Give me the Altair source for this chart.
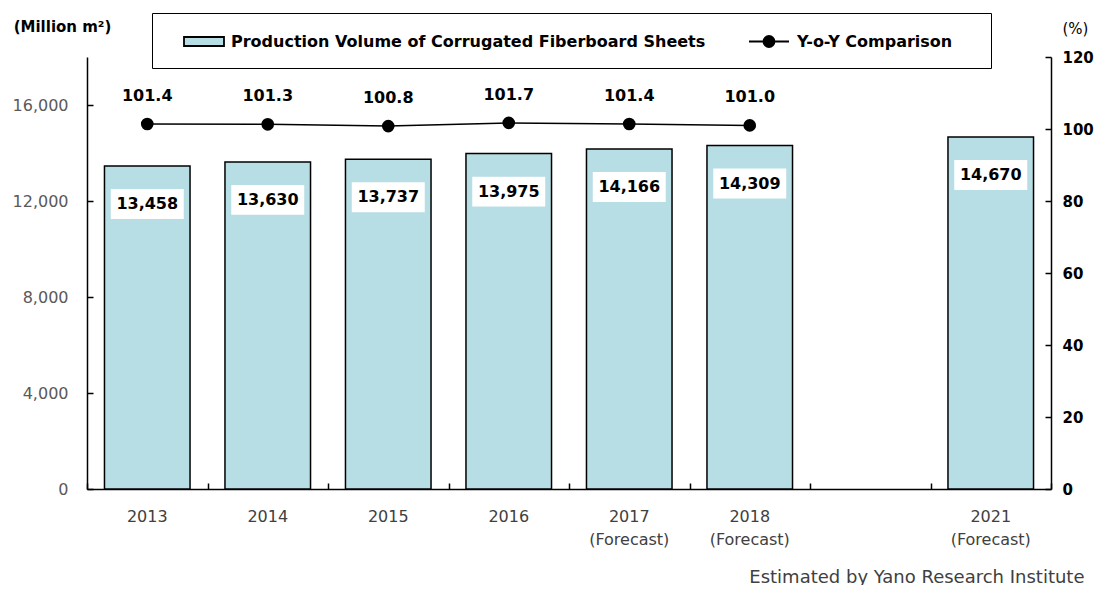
import altair as alt
import pandas as pd

# ---- data ----
categories = ["2013", "2014", "2015", "2016", "2017 (Forecast)", "2018 (Forecast)", "2021 (Forecast)"]
axis_slots = ["2013", "2014", "2015", "2016", "2017 (Forecast)", "2018 (Forecast)", "gap", "2021 (Forecast)"]
volume = [13458, 13630, 13737, 13975, 14166, 14309, 14670]
yoy = [101.4, 101.3, 100.8, 101.7, 101.4, 101.0, None]
left_ticks = [0, 4000, 8000, 12000, 16000]
right_ticks = [0, 20, 40, 60, 80, 100, 120]
S1 = "Production Volume of Corrugated Fiberboard Sheets"
S2 = "Y-o-Y Comparison"
FOOTER = "Estimated by Yano Research Institute"

FONT = "DejaVu Sans"
BLUE = "#b7dde5"
TS = 6  # inward tick length

df = pd.DataFrame({"cat": categories, "volume": volume, "yoy": yoy})

xscale = alt.Scale(domain=axis_slots, paddingInner=0.29, paddingOuter=0.145)
xslots = alt.Scale(domain=axis_slots, paddingInner=0, paddingOuter=0)
yLscale = alt.Scale(domain=[0, 18000], nice=False)
yRscale = alt.Scale(domain=[0, 120], nice=False)

x = alt.X(
    "cat:N", scale=xscale,
    axis=alt.Axis(
        title=FOOTER,
        titleX=997, titleY=93, titleAlign="right", titleBaseline="alphabetic",
        titleAngle=0, titleFont=FONT, titleFontSize=18, titleFontWeight="normal",
        titleColor="#404040",
        labelExpr="datum.value == 'gap' ? '' : split(datum.value, ' ')",
        labelAngle=0, labelFont=FONT, labelFontSize=16, labelColor="#404040",
        labelPadding=19, labelLineHeight=23,
        ticks=False, domainColor="black", domainWidth=1.5,
    ),
)
x_noaxis = alt.X("cat:N", scale=xscale, axis=None)
x_ticks = alt.X(
    "cat:N", scale=xslots,
    axis=alt.Axis(title=None, labels=False, domain=False, orient="bottom",
                  tickBand="extent", zindex=2,
                  tickSize=TS, tickColor="black", tickWidth=1.5, offset=-TS),
)

yL = alt.Y(
    "volume:Q", scale=yLscale,
    axis=alt.Axis(
        values=left_ticks, format=",.0f", grid=False,
        title="(Million m²)", titleAngle=0, titleX=-25, titleY=-26,
        titleAlign="center", titleBaseline="alphabetic",
        titleFont=FONT, titleFontSize=15, titleFontWeight="bold", titleColor="black",
        labelFont=FONT, labelFontSize=16, labelColor="#595959", labelPadding=19,
        ticks=False, domainColor="black", domainWidth=1.5,
    ),
)
yL_ticks = alt.Y(
    "volume:Q", scale=yLscale,
    axis=alt.Axis(values=left_ticks, title=None, labels=False, domain=False, grid=False,
                  tickSize=TS, tickColor="black", tickWidth=1.5, offset=-TS, orient="left", zindex=2),
)

yR = alt.Y(
    "yoy:Q", scale=yRscale,
    axis=alt.Axis(
        orient="right", values=right_ticks, grid=False,
        title="(%)", titleAngle=0, titleX=24, titleY=-24,
        titleAlign="center", titleBaseline="alphabetic",
        titleFont=FONT, titleFontSize=15, titleFontWeight="normal", titleColor="black",
        labelFont=FONT, labelFontSize=15, labelFontWeight="bold", labelColor="black",
        labelPadding=11, ticks=False, domainColor="black", domainWidth=1.5,
    ),
)
yR_ticks = alt.Y(
    "yoy:Q", scale=yRscale,
    axis=alt.Axis(values=right_ticks, title=None, labels=False, domain=False, grid=False,
                  tickSize=TS, tickColor="black", tickWidth=1.5, offset=-TS, orient="right", zindex=2),
)

# trailing non-breaking spaces (closed by a zero-width space) widen the framed legend
PAD = "\u00a0" * 48 + "\u200b"
legend_bar = alt.Legend(
    title=None, orient="none", legendX=65, legendY=-44, direction="horizontal",
    labelFont=FONT, labelFontSize=16, labelFontWeight="bold", labelColor="black",
    labelLimit=1200, labelExpr=f"datum.label + '{PAD}'",
    strokeColor="black", padding=17.5,
    symbolType="M-2,-0.45H2V0.45H-2Z", symbolSize=400, symbolOffset=23.5,
    symbolStrokeColor="black", symbolStrokeWidth=1.8, symbolFillColor=BLUE,
    labelOffset=16,
)
legend_line = alt.Legend(
    title=None, orient="none", legendX=661, legendY=-26.5, direction="horizontal",
    labelFont=FONT, labelFontSize=16, labelFontWeight="bold", labelColor="black",
    labelLimit=600, padding=0,
    symbolType="M-2,0H2M0.55,0A0.55,0.55,0,1,1,-0.55,0A0.55,0.55,0,1,1,0.55,0",
    symbolSize=400, symbolOffset=10, symbolStrokeColor="black", symbolStrokeWidth=1.8,
    symbolFillColor="black", symbolOpacity=1, labelOffset=17,
)

base_bar = alt.Chart(df).transform_calculate(series=f"'{S1}'")
bars = base_bar.mark_bar(stroke="black", strokeWidth=1.5).encode(
    x=x, y=yL,
    color=alt.Color("series:N", scale=alt.Scale(domain=[S1], range=[BLUE]), legend=legend_bar),
)
boxes = alt.Chart(df).mark_point(
    shape="M-1,-0.41H1V0.41H-1Z", size=5329, filled=True, fill="white",
    opacity=1, strokeWidth=0, yOffset=38,
).encode(x=x, y=yL)
vol_text = alt.Chart(df).mark_text(
    font=FONT, fontSize=16, fontWeight="bold", color="black", dy=38, baseline="middle",
).encode(x=x, y=yL, text=alt.Text("volume:Q", format=","))

left = alt.layer(bars, boxes, vol_text)

base_line = alt.Chart(df).transform_filter("isValid(datum.yoy)").transform_calculate(series2=f"'{S2}'")
line = base_line.mark_line(strokeWidth=1.5).encode(
    x=x_noaxis, y=yR,
    stroke=alt.Stroke("series2:N", scale=alt.Scale(domain=[S2], range=["black"]), legend=legend_line),
)
points = base_line.mark_point(filled=True, size=160, opacity=1, color="black").encode(x=x_noaxis, y=yR)
yoy_text = base_line.mark_text(
    font=FONT, fontSize=16, fontWeight="bold", color="black", dy=-28, baseline="middle",
).encode(x=x_noaxis, y=yR, text=alt.Text("yoy:Q", format=".1f"))

right = alt.layer(line, points, yoy_text)

# invisible layers that only carry the inward tick marks
tickL = alt.Chart(df).mark_point(opacity=0).encode(x=x_ticks, y=yL_ticks)
tickR = base_line.mark_point(opacity=0).encode(x=x_noaxis, y=yR_ticks)

chart = (
    alt.layer(left, right, tickL, tickR)
    .resolve_scale(y="independent", x="independent")
    .properties(
        width=964, height=432,
        autosize=alt.AutoSizeParams(type="none"),
        padding={"left": 79, "top": 49, "right": 44, "bottom": 96},
    )
    .configure_view(stroke=None)
    .configure_axis(grid=False)
)

chart.save("out.html", embed_options={"renderer": "svg", "actions": False})
